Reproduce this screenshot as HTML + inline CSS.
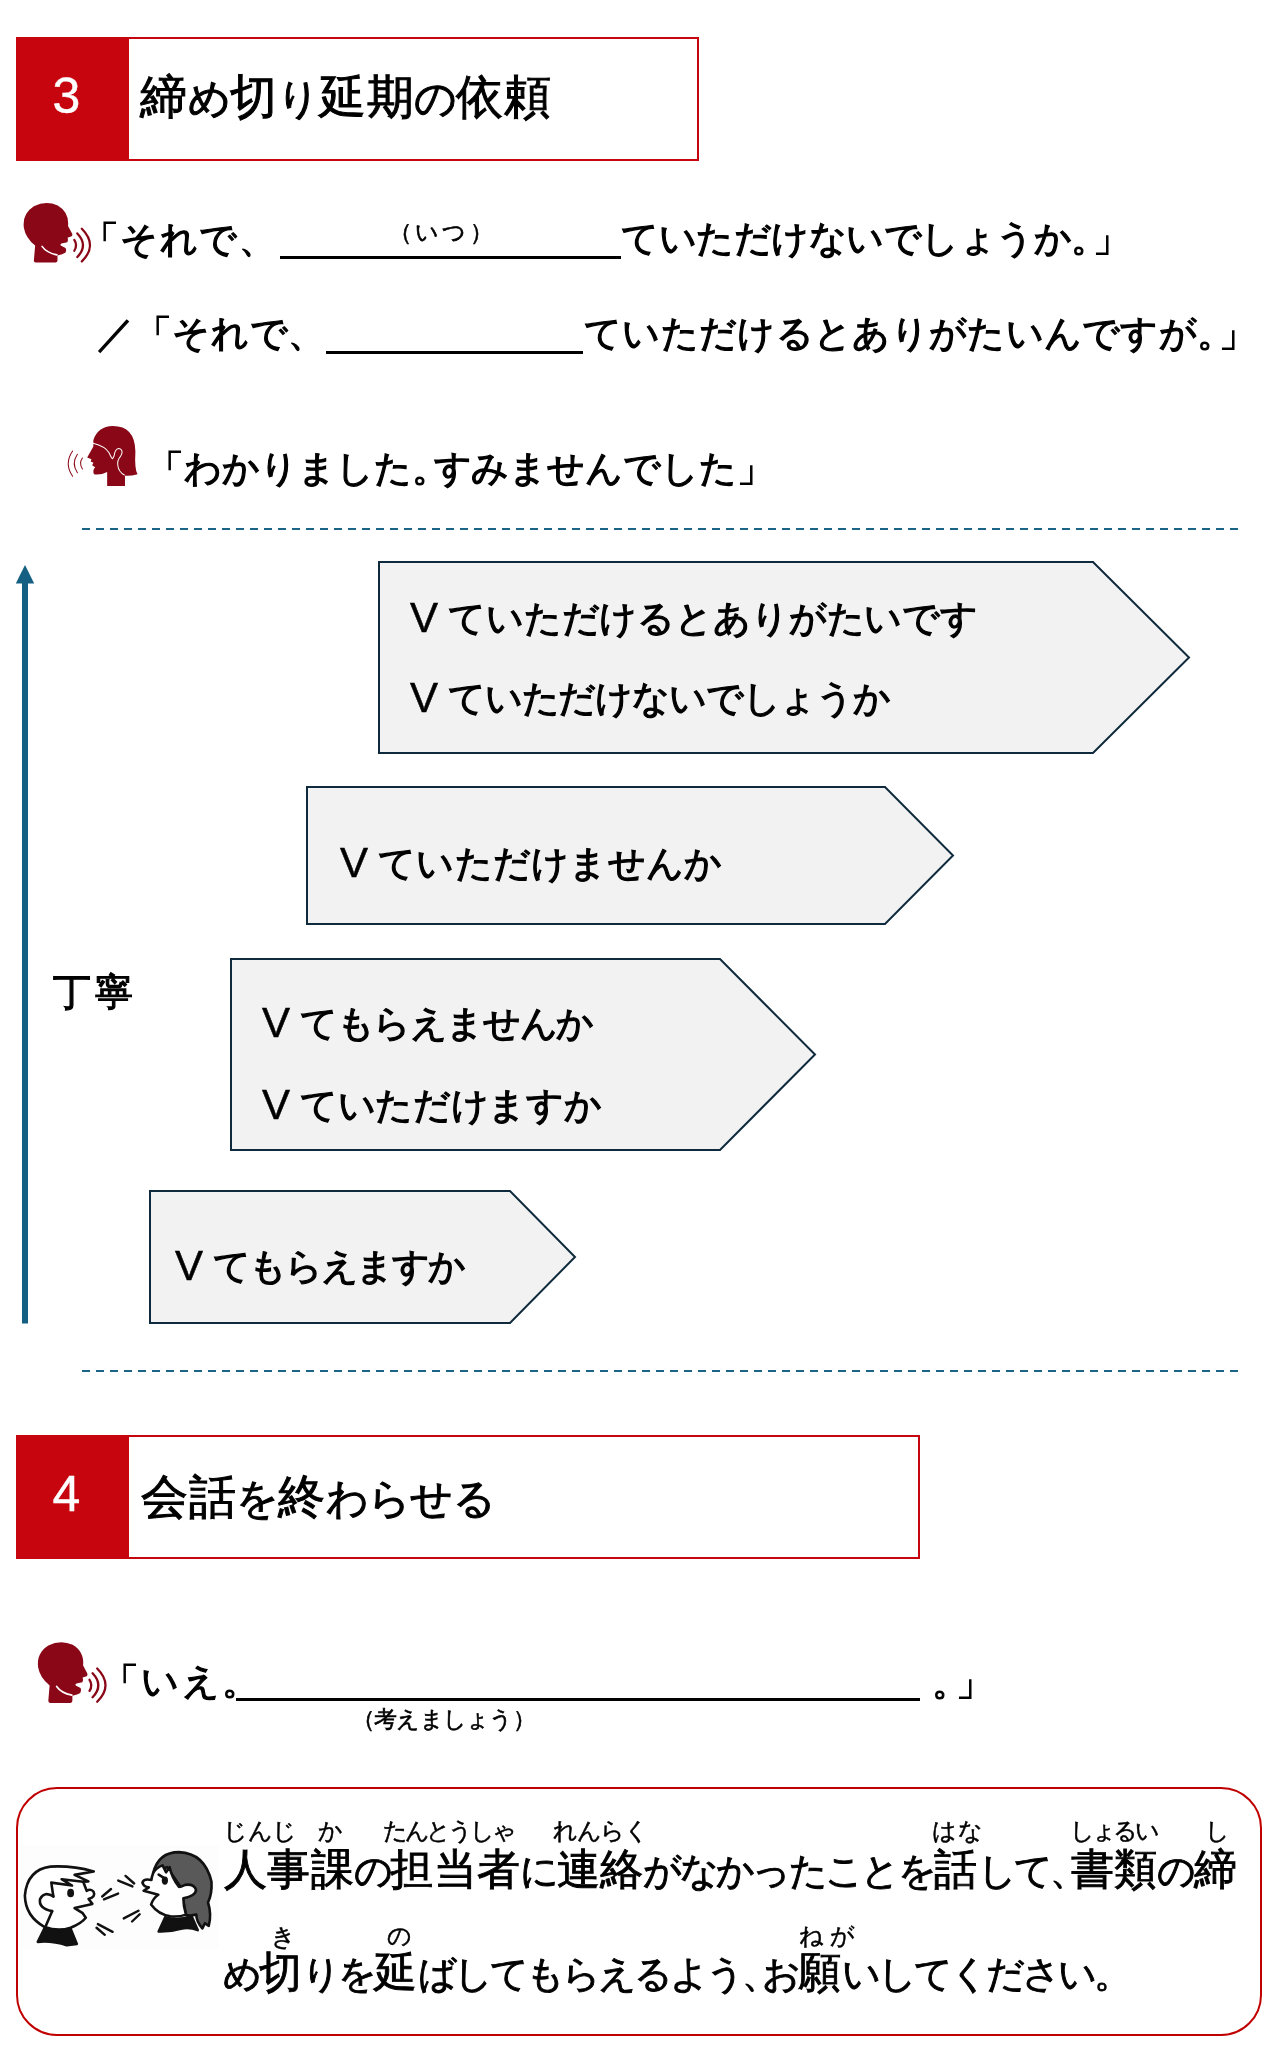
<!DOCTYPE html>
<html lang="ja">
<head>
<meta charset="utf-8">
<title>締め切り延期の依頼</title>
<style>
html,body{margin:0;padding:0;background:#fff;}
body{width:1274px;height:2060px;position:relative;overflow:hidden;
  font-family:"Liberation Sans",sans-serif;color:#000;}
.abs{position:absolute;}
.t,.big,.ruby,.hd .ttl,.hd .num{will-change:transform;}
.t{position:absolute;white-space:nowrap;line-height:1;font-size:37px;letter-spacing:-1px;
  -webkit-text-stroke:1.2px #000;}
.hd{position:absolute;left:16px;height:120px;border:2px solid #c7050e;box-sizing:content-box;background:#fff;}
.hd .num{position:absolute;left:-2px;top:-2px;width:113px;height:124px;background:#c7050e;color:#fff;
  font-size:50px;line-height:119px;text-align:center;text-indent:-12px;-webkit-text-stroke:0.4px #fff;}
.hd .ttl{position:absolute;left:122px;top:36px;font-size:42px;line-height:1;white-space:nowrap;letter-spacing:-1px;
  -webkit-text-stroke:1px #000;}
.ul{position:absolute;height:3px;background:#000;}
.small{font-size:23px;letter-spacing:-2px;-webkit-text-stroke:0.6px #000;}
.ruby{position:absolute;white-space:nowrap;line-height:1;font-size:24px;letter-spacing:-2px;-webkit-text-stroke:0.5px #000;}
.big{position:absolute;white-space:nowrap;line-height:1;font-size:38px;letter-spacing:-1px;-webkit-text-stroke:0.9px #000;}
.v{display:inline-block;position:relative;top:1px;width:38px;letter-spacing:0;font-size:42px;line-height:37px;-webkit-text-stroke:0.5px #000;}
.kj{font-size:1.12em;}
.big .kj{letter-spacing:0.3px;}
.ttl .kj{letter-spacing:0.5px;}
.pc{margin-right:-15px;}
.dash{position:absolute;left:82px;width:1157px;height:2px;
  background:repeating-linear-gradient(90deg,#1b6486 0,#1b6486 8px,transparent 8px,transparent 14px);}
</style>
</head>
<body>

<!-- Section 3 header -->
<div class="hd" style="top:37px;width:679px;">
  <div class="num">3</div>
  <div class="ttl" id="t3" style="left:122px;top:33.6px;letter-spacing:-0.98px;"><span class="kj">締</span>め<span class="kj">切</span>り<span class="kj">延期</span>の<span class="kj">依頼</span></div>
</div>


<!-- speaking head icon (male, facing right) : defined once, reused -->
<svg width="0" height="0" style="position:absolute">
  <defs>
    <g id="spk">
      <path fill="#890716" d="M205 578 L362 578 Q378 578 378 562 L378 522 Q420 514 440 500 Q453 482 442 462 L404 442 Q398 430 410 427 L456 417 Q466 398 458 380 L490 369 Q501 360 494 346 L462 286 Q472 178 380 124 Q285 82 190 130 Q96 190 110 300 Q124 382 200 442 L190 560 Q188 578 205 578 Z"/>
      <path fill="none" stroke="#fff" stroke-width="13" stroke-linecap="round" d="M255 449 Q290 500 374 517"/>
      <g fill="none" stroke="#890716" stroke-width="18" stroke-linecap="round">
        <path d="M512 397 Q540 440 512 484"/>
        <path d="M536 346 Q626 440 536 534"/>
        <path d="M572 309 Q702 440 572 569"/>
      </g>
    </g>
  </defs>
</svg>
<svg class="abs" style="left:10px;top:190px;" width="160" height="90" viewBox="0 0 1274 717"><use href="#spk"/></svg>
<svg class="abs" style="left:23.7px;top:1629.3px;" width="163" height="91.7" viewBox="0 0 1274 717"><use href="#spk"/></svg>

<!-- listening/speaking head (female, facing left) -->
<svg class="abs" style="left:50px;top:410px;" width="160" height="90" viewBox="0 0 1274 717">
  <path fill="#890716" d="M455 605 L597 605 L597 524 Q650 526 697 512 Q672 470 680 330 Q676 128 500 128 Q380 132 345 240 L345 290 L296 378 L330 392 L324 410 L346 421 L335 441 L360 456 Q336 478 350 512 Q400 522 455 494 Z"/>
  <path fill="none" stroke="#fff" stroke-width="8" stroke-linecap="round" stroke-linejoin="round" d="M343 265 Q440 290 470 340 Q485 375 496 388 Q510 380 515 342 Q530 298 560 310 Q588 330 560 372 Q534 402 540 442 Q546 492 592 518"/>
  <g fill="none" stroke="#890716" stroke-width="8" stroke-linecap="round">
    <path d="M258 382 Q228 425 258 470"/>
    <path d="M218 352 Q168 425 218 500"/>
    <path d="M180 326 Q110 425 180 528"/>
  </g>
</svg>

<!-- dialogue lines -->
<div class="t" id="l1a" style="left:81.5px;top:220.5px;letter-spacing:1.38px;">「それで、</div>
<div class="ul" style="left:280px;top:256px;width:341px;"></div>
<div class="t small" id="l1h" style="left:389px;top:220.8px;letter-spacing:3.17px;">（いつ）</div>
<div class="t" id="l1b" style="left:621px;top:219.5px;letter-spacing:-0.5px;">ていただけないでしょうか<span class="pc">。</span>」</div>

<div class="t" id="l2a" style="left:96.5px;top:315px;letter-spacing:0.7px;">／「それで、</div>
<div class="ul" style="left:326px;top:351px;width:257px;"></div>
<div class="t" id="l2b" style="left:584px;top:315px;letter-spacing:0.32px;">ていただけるとありがたいんですが<span class="pc">。</span>」</div>

<div class="t" id="l3" style="left:146.5px;top:449.8px;letter-spacing:-0.06px;">「わかりました<span class="pc">。</span>すみませんでした」</div>

<div class="dash" style="top:528px;"></div>

<!-- politeness arrow + pentagons -->
<svg class="abs" style="left:0;top:540px;" width="1274" height="800" viewBox="0 540 1274 800">
  <rect x="22" y="580" width="6" height="743.5" fill="#156082"/>
  <polygon points="25,565 34.2,583.5 15.8,583.5" fill="#156082"/>
  <g fill="#f2f2f2" stroke="#0f2a3d" stroke-width="2" stroke-linejoin="miter">
    <polygon points="379,562 1093,562 1189,657.5 1093,753 379,753"/>
    <polygon points="307,787 885,787 953,855.5 885,924 307,924"/>
    <polygon points="231,959 720,959 815,1054.5 720,1150 231,1150"/>
    <polygon points="150,1191 510,1191 575,1257 510,1323 150,1323"/>
  </g>
</svg>

<div class="t" id="p1a" style="left:410px;top:597.5px;letter-spacing:-0.15px;"><span class="v" id="v1">V</span>ていただけるとありがたいです</div>
<div class="t" id="p1b" style="left:410px;top:677.5px;letter-spacing:-1.17px;"><span class="v" id="v2">V</span>ていただけないでしょうか</div>
<div class="t" id="p2a" style="left:340px;top:842.5px;letter-spacing:0.29px;"><span class="v" id="v3">V</span>ていただけませんか</div>
<div class="t" id="p3a" style="left:261.5px;top:1002.5px;letter-spacing:-1.38px;"><span class="v" id="v4">V</span>てもらえませんか</div>
<div class="t" id="p3b" style="left:261.5px;top:1085.4px;letter-spacing:-0.31px;"><span class="v" id="v5">V</span>ていただけますか</div>
<div class="t" id="p4a" style="left:175px;top:1245.5px;letter-spacing:-2.14px;"><span class="v" id="v6">V</span>てもらえますか</div>
<div class="t" id="tei" style="font-size:37.5px;left:53px;top:974px;letter-spacing:4px;">丁寧</div>

<div class="dash" style="top:1370px;"></div>

<!-- Section 4 header -->
<div class="hd" style="top:1435px;width:900px;">
  <div class="num">4</div>
  <div class="ttl" id="t4" style="left:123px;top:36px;letter-spacing:-0.73px;"><span class="kj">会話</span>を<span class="kj">終</span>わらせる</div>
</div>

<div class="t" id="l4a" style="left:101.9px;top:1662.6px;letter-spacing:2.37px;">「いえ。</div>
<div class="ul" style="left:236px;top:1697.5px;width:683.5px;"></div>
<div class="t" id="l4b" style="left:931.5px;top:1663.5px;letter-spacing:-13.5px;">。」</div>
<div class="t small" id="l4h" style="left:351.5px;top:1708.4px;letter-spacing:-0.76px;">（考えましょう）</div>

<!-- task box -->
<div class="abs" id="box" style="left:16px;top:1787px;width:1242px;height:244.5px;border:2px solid #c00000;border-radius:41px;"></div>


<!-- cartoon: two people talking -->
<svg class="abs" id="cartoon" style="left:15px;top:1830px;" width="220" height="130" viewBox="0 0 1274 753">
  <rect x="30" y="85" width="1150" height="605" fill="#fdfdfd"/>
  <g stroke="#111" stroke-width="15" stroke-linecap="round" stroke-linejoin="round" fill="none">
    <!-- boy: shirt -->
    <path fill="#111" d="M172 566 L132 648 Q215 640 300 668 L358 660 L322 572 Q250 600 172 566 Z"/>
    <!-- boy: head -->
    <path fill="#fff" d="M205 212 Q70 230 57 380 Q60 500 172 562 Q250 590 322 566 Q385 540 410 508 L392 482 L345 452 L448 428 L426 400 Q470 385 455 358 Q440 338 415 352 L395 300 L425 298 L345 260 L456 240 Q330 205 205 212 Z"/>
    <!-- boy: hair line / spikes -->
    <path d="M395 300 L270 285 L330 322 L210 305 L222 385"/>
    <!-- boy: ear -->
    <path d="M222 385 Q170 352 145 400 Q135 455 215 470"/>
    <path d="M215 470 L178 556"/>
    <!-- girl: shirt -->
    <path fill="#111" d="M870 505 L832 588 Q900 590 960 572 Q1010 560 1058 580 L1022 498 Q940 530 870 505 Z"/>
    <!-- girl: hair back + ponytail -->
    <path fill="#595959" d="M800 250 Q830 128 950 128 Q1100 135 1138 300 Q1142 370 1118 420 Q1140 490 1122 555 L1100 540 L1085 570 Q1050 530 1050 490 Q1010 500 990 490 L960 330 L880 215 Z"/>
    <!-- girl: face -->
    <path fill="#fff" d="M800 250 Q790 275 790 290 Q745 280 738 305 Q745 330 775 332 L745 352 L830 375 Q800 395 788 432 Q830 490 900 500 Q950 505 990 490 Q975 440 975 395 Q1050 380 1048 345 Q1035 310 985 318 Q960 330 950 330 Q910 280 895 215 L875 245 L855 205 Q815 220 800 250 Z"/>
    <!-- girl: lash -->
    <path d="M832 258 L860 276"/>
  </g>
  <ellipse cx="322" cy="365" rx="20" ry="25" fill="#111"/>
  <ellipse cx="868" cy="293" rx="18" ry="24" fill="#111"/>
  <g stroke="#111" stroke-width="14" stroke-linecap="round">
    <path d="M598 293 L680 327 M640 266 L690 310"/>
    <path d="M505 385 L556 342 M515 402 L597 368"/>
    <path d="M630 512 L715 468 M678 530 L722 488"/>
    <path d="M480 545 L565 590 M472 566 L520 607"/>
  </g>
</svg>

<div class="big" id="b1" style="left:224px;top:1848px;letter-spacing:-2.62px;"><span class="kj">人事課</span>の<span class="kj">担当者</span>に<span class="kj">連絡</span>がなかったことを<span class="kj">話</span>して<span class="pc">、</span><span class="kj">書類</span>の<span class="kj">締</span></div>
<div class="big" id="b2" style="left:223px;top:1951px;letter-spacing:-2.96px;">め<span class="kj">切</span>りを<span class="kj">延</span>ばしてもらえるよう<span class="pc">、</span>お<span class="kj">願</span>いしてください。</div>

<div class="ruby" id="r1" style="left:222.5px;top:1819px;letter-spacing:-0.5px;">じんじ</div>
<div class="ruby" id="r2" style="left:317.5px;top:1819px;">か</div>
<div class="ruby" id="r3" style="left:383px;top:1819px;letter-spacing:-3.3px;">たんとうしゃ</div>
<div class="ruby" id="r4" style="left:553px;top:1819px;letter-spacing:-1.34px;">れんらく</div>
<div class="ruby" id="r5" style="left:932px;top:1819px;letter-spacing:0.5px;">はな</div>
<div class="ruby" id="r6" style="left:1069.5px;top:1819px;letter-spacing:-3.5px;">しょるい</div>
<div class="ruby" id="r7" style="left:1204.5px;top:1819px;">し</div>
<div class="ruby" id="r8" style="left:271px;top:1925px;">き</div>
<div class="ruby" id="r9" style="left:386.5px;top:1924.4px;">の</div>
<div class="ruby" id="r10" style="left:798.5px;top:1924.4px;letter-spacing:5.5px;">ねが</div>

</body>
</html>
